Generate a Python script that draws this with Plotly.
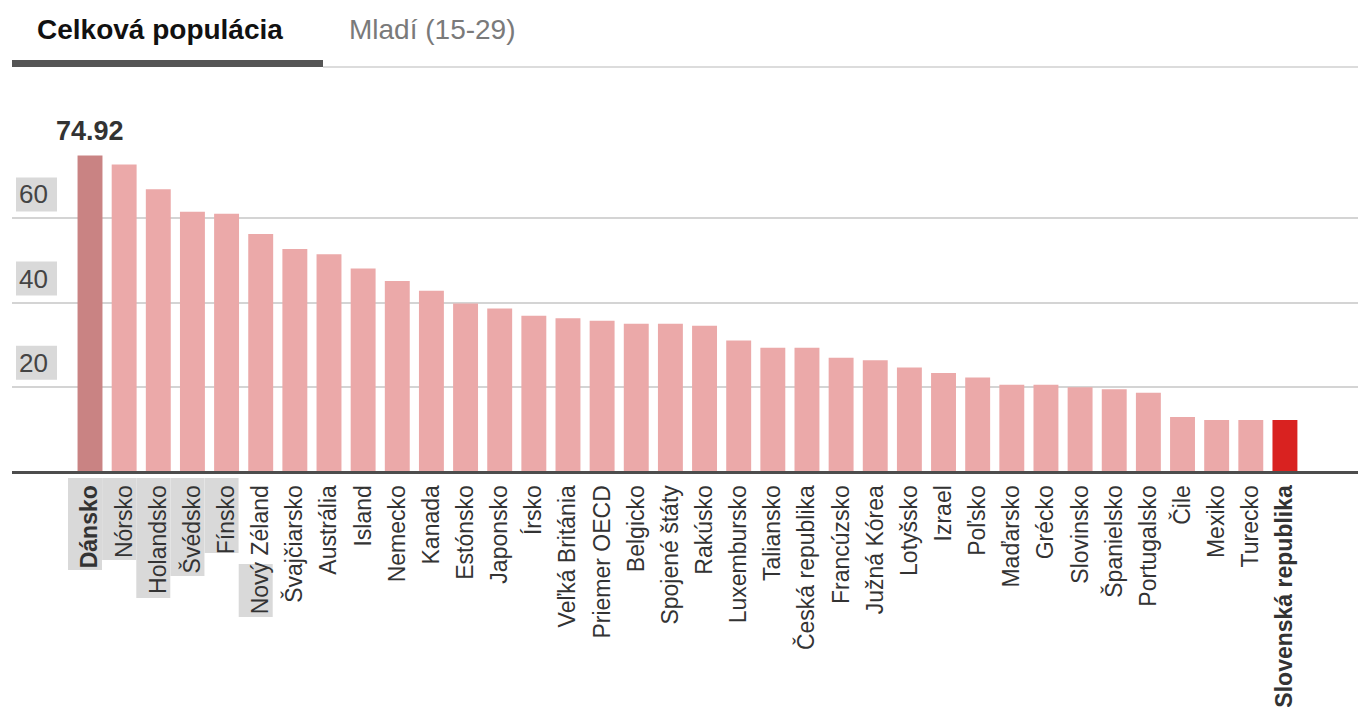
import plotly.graph_objects as go

# ---------------- data ----------------
countries = [
    "Dánsko", "Nórsko", "Holandsko", "Švédsko", "Fínsko", "Nový Zéland",
    "Švajčiarsko", "Austrália", "Island", "Nemecko", "Kanada", "Estónsko",
    "Japonsko", "Írsko", "Veľká Británia", "Priemer OECD", "Belgicko",
    "Spojené štáty", "Rakúsko", "Luxembursko", "Taliansko", "Česká republika",
    "Francúzsko", "Južná Kórea", "Lotyšsko", "Izrael", "Poľsko", "Maďarsko",
    "Grécko", "Slovinsko", "Španielsko", "Portugalsko", "Čile", "Mexiko",
    "Turecko", "Slovenská republika",
]
values = [
    74.92, 72.8, 66.9, 61.6, 61.1, 56.3,
    52.7, 51.5, 48.1, 45.1, 42.8, 39.8,
    38.6, 36.9, 36.3, 35.7, 35.0,
    35.0, 34.5, 31.0, 29.3, 29.3,
    26.9, 26.3, 24.6, 23.3, 22.2, 20.5,
    20.5, 19.9, 19.4, 18.6, 12.8, 12.1,
    12.1, 12.1,
]
y_ticks = [20, 40, 60]
tab_labels = ["Celková populácia", "Mladí (15-29)"]
bold_countries = ["Dánsko", "Slovenská republika"]
leader = "Dánsko"
home = "Slovenská republika"
# label highlight boxes (country -> top/bottom pixel rows)
label_boxes = {
    "Dánsko": (478, 570), "Nórsko": (478, 560), "Holandsko": (478, 598),
    "Švédsko": (478, 576), "Fínsko": (478, 553), "Nový Zéland": (564, 617),
}

# ---------------- geometry / style ----------------
W, H = 1358, 711
ML, MR, MT, MB = 12, 0, 100, 240
PW, PH = W - ML - MR, H - MT - MB
X_RANGE = [-2.285, 37.14]
Y_MAX = 88.12
FONT = "Liberation Sans, Arial, Helvetica, sans-serif"

PINK = "#eba9a9"
LEADER_C = "#c98383"
HOME_C = "#d92220"


def px_x(i):
    return ML + (i - X_RANGE[0]) / (X_RANGE[1] - X_RANGE[0]) * PW


def paper_x(px):
    return (px - ML) / PW


def paper_y(py):
    return (H - MB - py) / PH


colors = [LEADER_C if c == leader else HOME_C if c == home else PINK for c in countries]
ticktext = [f"<b>{c}</b>" if c in bold_countries else c for c in countries]

fig = go.Figure(
    go.Bar(
        x=countries,
        y=values,
        marker=dict(color=colors, line=dict(width=0)),
        width=0.73,
        hoverinfo="x+y",
    )
)

shapes = []
annotations = []

# tabs
shapes.append(dict(type="rect", xref="paper", yref="paper",
                   x0=paper_x(ML), x1=paper_x(323), y0=paper_y(67), y1=paper_y(60),
                   fillcolor="#555555", line=dict(width=0), layer="above"))
shapes.append(dict(type="rect", xref="paper", yref="paper",
                   x0=paper_x(323), x1=1, y0=paper_y(68), y1=paper_y(66),
                   fillcolor="#dcdcdc", line=dict(width=0), layer="above"))
annotations.append(dict(xref="paper", yref="paper", x=paper_x(35), y=paper_y(29),
                        xanchor="left", yanchor="middle", showarrow=False,
                        text=f"<b>{tab_labels[0]}</b>",
                        font=dict(family=FONT, size=28, color="#111111")))
annotations.append(dict(xref="paper", yref="paper", x=paper_x(347), y=paper_y(29),
                        xanchor="left", yanchor="middle", showarrow=False,
                        text=tab_labels[1],
                        font=dict(family=FONT, size=28, color="#7a7a7a")))

# y tick labels with grey boxes
for v in y_ticks:
    gy = H - MB - v * PH / Y_MAX
    shapes.append(dict(type="rect", xref="paper", yref="paper",
                       x0=paper_x(16), x1=paper_x(57), y0=paper_y(gy - 7), y1=paper_y(gy - 41),
                       fillcolor="#d9d9d9", line=dict(width=0), layer="below"))
    annotations.append(dict(xref="paper", yref="y", x=paper_x(17), y=v,
                            xanchor="left", yanchor="middle", yshift=24, showarrow=False,
                            text=str(v), font=dict(family=FONT, size=26, color="#444444")))

# label highlight boxes
for c, (top, bot) in label_boxes.items():
    cx = px_x(countries.index(c))
    shapes.append(dict(type="rect", xref="paper", yref="paper",
                       x0=paper_x(cx - 22), x1=paper_x(cx + 12), y0=paper_y(bot), y1=paper_y(top),
                       fillcolor="#d9d9d9", line=dict(width=0), layer="below"))

# leader value label
annotations.append(dict(x=leader, y=values[countries.index(leader)], xref="x", yref="y",
                        yanchor="bottom", yshift=8, showarrow=False,
                        text=f"<b>{values[countries.index(leader)]:.2f}</b>",
                        font=dict(family=FONT, size=27, color="#333333")))

fig.update_layout(
    width=W, height=H,
    margin=dict(l=ML, r=MR, t=MT, b=MB, pad=0, autoexpand=False),
    paper_bgcolor="white", plot_bgcolor="white",
    showlegend=False,
    bargap=0.27,
    shapes=shapes,
    annotations=annotations,
    xaxis=dict(
        type="category", range=X_RANGE, automargin=False,
        tickmode="array", tickvals=countries, ticktext=ticktext,
        tickangle=-90, ticks="", showgrid=False, zeroline=False,
        showline=True, linecolor="#4d4d4d", linewidth=3,
        ticklabelstandoff=2,
        tickfont=dict(family=FONT, size=23, color="#333333"),
    ),
    yaxis=dict(
        range=[0, Y_MAX], tickvals=y_ticks, showticklabels=False, automargin=False,
        showgrid=True, gridcolor="#d4d4d4", gridwidth=2,
        zeroline=False, showline=False, ticks="",
    ),
)

fig.write_html("out.html", config={"displayModeBar": False},
               post_script="document.body.style.margin='0';")
